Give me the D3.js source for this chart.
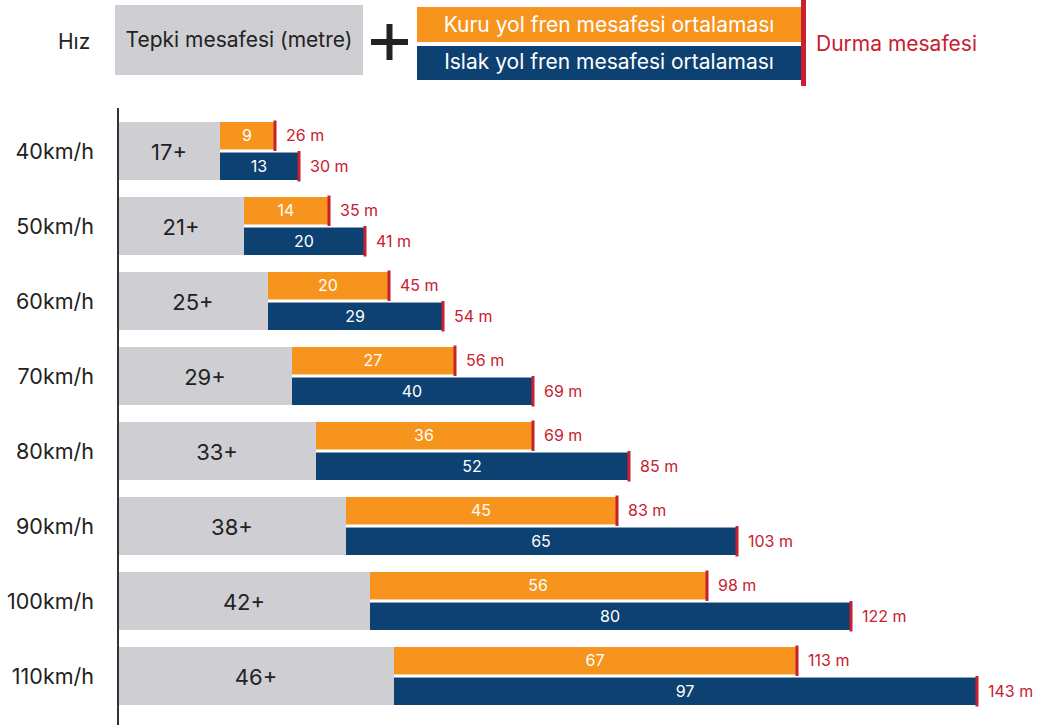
<!DOCTYPE html>
<html>
<head>
<meta charset="utf-8">
<script src="https://cdn.jsdelivr.net/npm/d3@7"></script>
<style>
  body { margin: 0; background: #fff; }
  text { font-family: Inter, "Noto Sans", sans-serif; }
</style>
</head>
<body>
<svg id="chart"></svg>
<script>
const width = 1047;
const height = 725;

// data (metres)
const speeds   = ["40km/h", "50km/h", "60km/h", "70km/h", "80km/h", "90km/h", "100km/h", "110km/h"];
const reaction = [17, 21, 25, 29, 33, 38, 42, 46];
const dryBrake = [9, 14, 20, 27, 36, 45, 56, 67];
const wetBrake = [13, 20, 29, 40, 52, 65, 80, 97];

const gray = "#cfced3", orange = "#f7941d", navy = "#0d4171", red = "#c8202f", ink = "#222";

const svg = d3.select("#chart")
  .attr("width", width)
  .attr("height", height);

const rows = speeds.map((s, i) => ({
  speed: s,
  reaction: reaction[i],
  dry: dryBrake[i],
  wet: wetBrake[i]
}));

const x = d3.scaleLinear().domain([0, 143]).range([118, 976]);
const y = d3.scaleBand().domain(speeds).range([122, 705]).paddingInner(17 / 75).paddingOuter(0);
const sub = d3.scaleBand().domain(["dry", "wet"]).range([0, y.bandwidth()]).paddingInner(0.1);

// ---- header / legend ----
const head = svg.append("g");
head.append("text").attr("x", 58).attr("y", 42).attr("dy", "0.35em")
  .attr("font-size", 21).attr("fill", ink).text("Hız");

head.append("rect").attr("x", 115).attr("y", 5).attr("width", 248).attr("height", 70).attr("fill", gray);
head.append("text").attr("x", 239).attr("y", 40).attr("dy", "0.35em").attr("text-anchor", "middle")
  .attr("font-size", 21).attr("fill", ink).text("Tepki mesafesi (metre)");

// plus sign
head.append("rect").attr("x", 371).attr("y", 39).attr("width", 37).attr("height", 6).attr("fill", ink);
head.append("rect").attr("x", 386.5).attr("y", 24).attr("width", 6).attr("height", 36).attr("fill", ink);

head.append("rect").attr("x", 417).attr("y", 7).attr("width", 384).attr("height", 35).attr("fill", orange);
head.append("text").attr("x", 609).attr("y", 24.5).attr("dy", "0.35em").attr("text-anchor", "middle")
  .attr("font-size", 21).attr("fill", "#fff").text("Kuru yol fren mesafesi ortalaması");

head.append("rect").attr("x", 417).attr("y", 46).attr("width", 384).attr("height", 34).attr("fill", navy);
head.append("text").attr("x", 609).attr("y", 62).attr("dy", "0.35em").attr("text-anchor", "middle")
  .attr("font-size", 21).attr("fill", "#fff").text("Islak yol fren mesafesi ortalaması");

head.append("rect").attr("x", 801).attr("y", 0).attr("width", 5).attr("height", 86).attr("fill", red);
head.append("text").attr("x", 816).attr("y", 44).attr("dy", "0.35em")
  .attr("font-size", 21).attr("fill", red).text("Durma mesafesi");

// ---- rows ----
svg.append("line")
  .attr("x1", 118).attr("x2", 118).attr("y1", 108).attr("y2", height)
  .attr("stroke", "#333").attr("stroke-width", 2);

const g = svg.append("g");

const row = g.selectAll("g.row")
  .data(rows)
  .join("g")
  .attr("class", "row")
  .attr("transform", d => `translate(0,${y(d.speed)})`);

row.append("text")
  .attr("x", 94).attr("y", y.bandwidth() / 2).attr("dy", "0.35em")
  .attr("text-anchor", "end").attr("font-size", 21.5).attr("fill", ink)
  .text(d => d.speed);

row.append("rect")
  .attr("x", x(0) + 1).attr("y", 0)
  .attr("width", d => x(d.reaction) - x(0) - 1)
  .attr("height", y.bandwidth())
  .attr("fill", gray);

row.append("text")
  .attr("x", d => (x(0) + x(d.reaction)) / 2).attr("y", y.bandwidth() / 2 + 1).attr("dy", "0.35em")
  .attr("text-anchor", "middle").attr("font-size", 22).attr("fill", ink)
  .text(d => d.reaction + "+");

const parts = [
  { key: "dry", color: orange },
  { key: "wet", color: navy }
];

parts.forEach(p => {
  const by = sub(p.key), bh = sub.bandwidth();

  row.append("rect")
    .attr("x", d => x(d.reaction)).attr("y", by)
    .attr("width", d => x(d.reaction + d[p.key]) - x(d.reaction))
    .attr("height", bh)
    .attr("fill", p.color);

  row.append("text")
    .attr("x", d => (x(d.reaction) + x(d.reaction + d[p.key])) / 2)
    .attr("y", by + bh / 2).attr("dy", "0.35em")
    .attr("text-anchor", "middle").attr("font-size", 16).attr("fill", "#fff")
    .text(d => d[p.key]);

  // red stop marker
  row.append("rect")
    .attr("x", d => x(d.reaction + d[p.key]) - 0.5).attr("y", by - 1.5)
    .attr("width", 3).attr("height", bh + 3)
    .attr("fill", red);

  row.append("text")
    .attr("x", d => x(d.reaction + d[p.key]) + 12)
    .attr("y", by + bh / 2).attr("dy", "0.35em")
    .attr("font-size", 16).attr("fill", red)
    .text(d => (d.reaction + d[p.key]) + " m");
});
</script>
</body>
</html>
